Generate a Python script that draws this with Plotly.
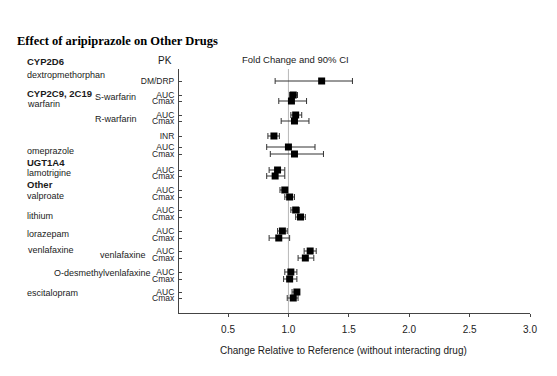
import plotly.graph_objects as go

# ---- data ----
pk_labels = ["DM/DRP", "AUC", "Cmax", "AUC", "Cmax", "INR", "AUC", "Cmax",
             "AUC", "Cmax", "AUC", "Cmax", "AUC", "Cmax", "AUC", "Cmax",
             "AUC", "Cmax", "AUC", "Cmax", "AUC", "Cmax"]
# row positions (rows from top of plot, layout units)
row_pos = [1.2, 2.6, 3.2, 4.6, 5.2, 6.7, 7.8, 8.5, 10.1, 10.7, 12.1, 12.8,
           14.1, 14.8, 16.2, 16.9, 18.2, 18.9, 20.3, 21.0, 22.3, 22.9]
fold = [1.275, 1.04, 1.025, 1.06, 1.05, 0.88, 1.00, 1.05, 0.91, 0.89, 0.97, 1.01,
        1.06, 1.10, 0.95, 0.92, 1.18, 1.14, 1.02, 1.01, 1.07, 1.04]
ci_low = [0.89, 1.01, 0.92, 1.02, 0.94, 0.83, 0.82, 0.85, 0.84, 0.82, 0.93, 0.97,
          1.02, 1.06, 0.91, 0.84, 1.13, 1.08, 0.97, 0.96, 1.03, 0.99]
ci_high = [1.53, 1.075, 1.15, 1.11, 1.17, 0.925, 1.22, 1.29, 0.97, 0.97, 0.99, 1.05,
           1.09, 1.14, 0.99, 1.01, 1.23, 1.21, 1.07, 1.07, 1.09, 1.08]
x_ticks = [0.5, 1.0, 1.5, 2.0, 2.5, 3.0]
x_tick_labels = ["0.5", "1.0", "1.5", "2.0", "2.5", "3.0"]

# left-side labels: (text, bold, x_px, y_px)
side_labels = [
    ("CYP2D6", True, 17, 54), ("dextropmethorphan", False, 17, 67),
    ("CYP2C9, 2C19", True, 17, 85), ("warfarin", False, 17, 96),
    ("S-warfarin", False, 85, 89), ("R-warfarin", False, 85, 111),
    ("omeprazole", False, 17, 143), ("UGT1A4", True, 17, 154),
    ("lamotrigine", False, 17, 165), ("Other", True, 17, 176),
    ("valproate", False, 17, 188), ("lithium", False, 17, 208),
    ("lorazepam", False, 17, 226), ("venlafaxine", False, 18, 242),
    ("venlafaxine", False, 90, 247), ("O-desmethylvenlafaxine", False, 44, 265),
    ("escitalopram", False, 17, 285),
]

W, H = 557, 376
L, R, T, B = 171, 522, 61, 305
FONT = "Arial, Liberation Sans, sans-serif"

def px(x):
    return (x - L) / (R - L)

def py(y):
    return (B - y) / (B - T)

err_plus = [h - f for h, f in zip(ci_high, fold)]
err_minus = [f - l for f, l in zip(fold, ci_low)]

fig = go.Figure()
fig.add_trace(go.Scatter(
    x=fold, y=row_pos, mode="markers",
    marker=dict(symbol="square", size=7, color="#000000"),
    error_x=dict(type="data", symmetric=False, array=err_plus, arrayminus=err_minus,
                 color="#333333", thickness=1, width=3),
    showlegend=False, hoverinfo="x",
))

fig.add_shape(type="line", x0=1.0, x1=1.0, y0=0, y1=1, xref="x", yref="paper",
              line=dict(color="#b8b8b8", width=1), layer="below")

anns = []
for text, bold, x, y in side_labels:
    anns.append(dict(text=("<b>%s</b>" % text) if bold else text, x=px(x), y=py(y),
                     xref="paper", yref="paper", xanchor="left", yanchor="middle",
                     showarrow=False,
                     font=dict(family=FONT, size=9.5 if bold else 9, color="#1a1a1a")))
anns.append(dict(text="PK", x=px(157), y=py(52), xref="paper", yref="paper",
                 xanchor="center", yanchor="middle", showarrow=False,
                 font=dict(family=FONT, size=10, color="#1a1a1a")))
anns.append(dict(text="Fold Change and 90% CI", x=px(287), y=py(51), xref="paper",
                 yref="paper", xanchor="center", yanchor="middle", showarrow=False,
                 font=dict(family=FONT, size=9.5, color="#1a1a1a")))
anns.append(dict(text="<b>Effect of aripiprazole on Other Drugs</b>", x=px(7), y=py(33),
                 xref="paper", yref="paper", xanchor="left", yanchor="middle",
                 showarrow=False,
                 font=dict(family="Times New Roman, Liberation Serif, serif", size=12.5,
                           color="#000000")))
anns.append(dict(text="Change Relative to Reference (without interacting drug)",
                 x=px(335), y=py(342), xref="paper", yref="paper", xanchor="center",
                 yanchor="middle", showarrow=False,
                 font=dict(family=FONT, size=10, color="#1a1a1a")))

fig.update_layout(
    width=W, height=H, margin=dict(l=L, r=W - R, t=T, b=H - B, pad=0),
    paper_bgcolor="white", plot_bgcolor="white",
    annotations=anns,
    xaxis=dict(range=[0.094, 3.0], tickvals=x_ticks, ticktext=x_tick_labels,
               showgrid=False, zeroline=False, showline=True, linecolor="#444444",
               linewidth=1, ticks="outside", ticklen=3, tickcolor="#444444",
               ticklabelstandoff=4,
               tickfont=dict(family=FONT, size=10, color="#222222")),
    yaxis=dict(range=[24.4, 0], tickvals=row_pos, ticktext=pk_labels,
               showgrid=False, zeroline=False, showline=True, linecolor="#444444",
               linewidth=1, ticks="inside", ticklen=3, tickcolor="#444444",
               ticklabelstandoff=2,
               tickfont=dict(family=FONT, size=8.5, color="#222222")),
)

fig.write_html("out.html")
